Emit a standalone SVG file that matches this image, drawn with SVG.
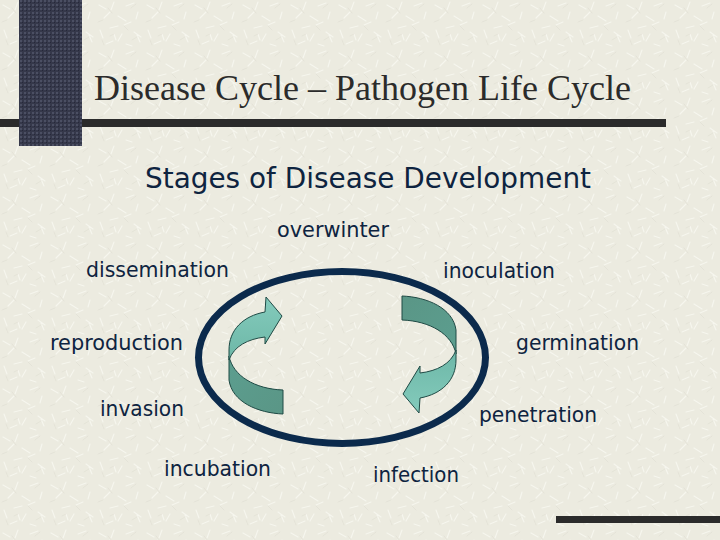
<svg xmlns="http://www.w3.org/2000/svg" width="720" height="540" viewBox="0 0 720 540">
  <defs>
    <pattern id="tex" width="48" height="48" patternUnits="userSpaceOnUse">
      <rect width="48" height="48" fill="#ECEBE0"/>
      <g stroke="#F6F6EE" stroke-width="1.2" stroke-linecap="round">
        <path d="M3 5 l7 4 M18 2 l-3 8 M30 6 l8 -3 M42 12 l-2 7 M8 18 l6 -6 M22 16 l8 5 M35 22 l-7 3 M4 30 l3 8 M14 28 l8 -2 M26 34 l-4 7 M38 32 l7 5 M10 44 l7 -3 M30 44 l6 2 M44 42 l-3 -7 M20 40 l-2 -6"/>
      </g>
      <g stroke="#E2E1D5" stroke-width="0.8" stroke-linecap="round">
        <path d="M12 8 l4 5 M40 4 l-5 4 M2 22 l5 -2 M28 26 l4 4 M18 34 l-4 2 M36 40 l5 -3 M6 40 l2 5"/>
      </g>
    </pattern>
    <pattern id="dots" width="4" height="4" patternUnits="userSpaceOnUse">
      <rect width="4" height="4" fill="#35384A"/>
      <rect x="0" y="0" width="2" height="2" fill="#4B4F63"/>
      <rect x="2" y="2" width="1" height="1" fill="#26283A"/>
    </pattern>
    <linearGradient id="light" x1="0" y1="0" x2="0" y2="1">
      <stop offset="0" stop-color="#84CBBC"/>
      <stop offset="1" stop-color="#6DB7A7"/>
    </linearGradient>
    <linearGradient id="dark" x1="0" y1="0" x2="1" y2="1">
      <stop offset="0" stop-color="#5C9E8F"/>
      <stop offset="1" stop-color="#5A9686"/>
    </linearGradient>
    <style>
      .title { font-family: "Liberation Serif", "Times New Roman", serif; font-size: 36px; fill: #2B2B2B; }
      .sub { font-family: "DejaVu Sans", Verdana, sans-serif; font-size: 28px; fill: #0E2440; }
      .lbl { font-family: "DejaVu Sans", Verdana, sans-serif; font-size: 20.5px; fill: #0E2440; }
      .bar { fill: #2B2B2B; }
      .ring { fill: none; stroke: #0B2A4C; stroke-width: 7; }
      .band-l { fill: url(#light); stroke: #1F4A45; stroke-width: 1; stroke-linejoin: round; }
      .band-d { fill: url(#dark); stroke: #1F4A45; stroke-width: 1; stroke-linejoin: round; }
    </style>
  </defs>

  <rect width="720" height="540" fill="url(#tex)"/>

  <!-- decorative bars -->
  <rect x="0" y="119" width="666" height="8" class="bar"/>
  <rect x="19" y="0" width="63" height="146" fill="url(#dots)"/>
  <rect x="556" y="516" width="164" height="7" class="bar"/>

  <text class="title" x="94" y="100" textLength="537" lengthAdjust="spacingAndGlyphs">Disease Cycle – Pathogen Life Cycle</text>
  <text class="sub" x="145" y="188" textLength="446" lengthAdjust="spacingAndGlyphs">Stages of Disease Development</text>

  <!-- connectors: cycle ring and curved arrows -->
  <g id="connectors">
    <ellipse class="ring" cx="342" cy="357.5" rx="143.5" ry="86"/>
    <g id="arrow-left">
      <path class="band-d" d="M229,356 L229,380 C232,402 258,413 283,414 L283,390 C255,389 233,376 229,356 Z"/>
      <path class="band-l" d="M265,337 L265,344 L282,316 L266,297 L265,312 C243,316 229,330 229,350 L229,360 C234,346 248,339 265,337 Z"/>
    </g>
    <g id="arrow-right" transform="rotate(180 342.5 355)">
      <path class="band-d" d="M229,356 L229,380 C232,402 258,413 283,414 L283,390 C255,389 233,376 229,356 Z"/>
      <path class="band-l" d="M265,337 L265,344 L282,316 L266,297 L265,312 C243,316 229,330 229,350 L229,360 C234,346 248,339 265,337 Z"/>
    </g>
  </g>

  <g id="overwinter"><text class="lbl" x="277" y="237" textLength="112" lengthAdjust="spacingAndGlyphs">overwinter</text></g>
  <g id="dissemination"><text class="lbl" x="86" y="277" textLength="143" lengthAdjust="spacingAndGlyphs">dissemination</text></g>
  <g id="inoculation"><text class="lbl" x="443" y="278" textLength="112" lengthAdjust="spacingAndGlyphs">inoculation</text></g>
  <g id="reproduction"><text class="lbl" x="50" y="350" textLength="133" lengthAdjust="spacingAndGlyphs">reproduction</text></g>
  <g id="germination"><text class="lbl" x="516" y="350" textLength="123" lengthAdjust="spacingAndGlyphs">germination</text></g>
  <g id="invasion"><text class="lbl" x="100" y="416" textLength="84" lengthAdjust="spacingAndGlyphs">invasion</text></g>
  <g id="penetration"><text class="lbl" x="479" y="422" textLength="118" lengthAdjust="spacingAndGlyphs">penetration</text></g>
  <g id="incubation"><text class="lbl" x="164" y="476" textLength="107" lengthAdjust="spacingAndGlyphs">incubation</text></g>
  <g id="infection"><text class="lbl" x="373" y="482" textLength="86" lengthAdjust="spacingAndGlyphs">infection</text></g>
</svg>
